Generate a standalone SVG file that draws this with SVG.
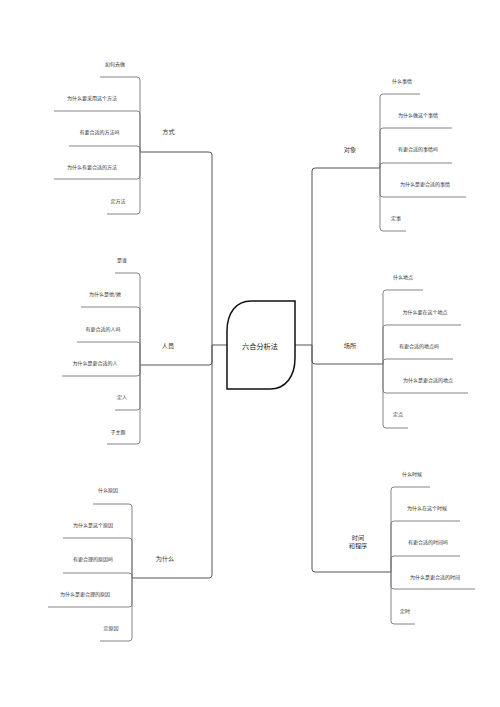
<svg xmlns="http://www.w3.org/2000/svg" width="500" height="707" viewBox="0 0 500 707">
<style>
text{font-family:"Noto Sans CJK SC","Noto Sans",sans-serif;fill:#333;text-anchor:middle;dominant-baseline:central}
.s{font-size:5px}
.b{font-size:6.2px}
.c{font-size:7.2px;fill:#111}
.ln{fill:none;stroke:#777;stroke-width:0.9}
.tk{fill:none;stroke:#555;stroke-width:1}
</style>
<rect width="500" height="707" fill="#fff"/>
<g id="connectors">
<path class="tk" d="M227 345H212M212 345V155Q212 152 209 152H140M212 345V362Q212 365 209 365H140M212 345V575Q212 578 209 578H132"/>
<path class="tk" d="M295 345H312M312 345V171Q312 168 315 168H380M312 345V361Q312 364 315 364H383M312 345V569Q312 572 315 572H391"/>
<path class="ln" d="M100 77H137Q140 77 140 80V152M54 111H137Q140 111 140 114V152M69 146H137Q140 146 140 149V152M54 179H137Q140 179 140 176V152M107 214H137Q140 214 140 211V152"/>
<path class="ln" d="M115 273H137Q140 273 140 276V365M81 307H137Q140 307 140 310V365M77 342H137Q140 342 140 345V365M62 376H137Q140 376 140 373V365M115 410H137Q140 410 140 407V365M107 444H137Q140 444 140 441V365"/>
<path class="ln" d="M93 504H129Q132 504 132 507V578M63 538H129Q132 538 132 541V578M63 573H129Q132 573 132 576V578M48 607H129Q132 607 132 604V578M100 641H129Q132 641 132 638V578"/>
<path class="ln" d="M420 94H383Q380 94 380 97V168M452 128H383Q380 128 380 131V168M452 163H383Q380 163 380 166V168M466 197H383Q380 197 380 194V168M406 231H383Q380 231 380 228V168"/>
<path class="ln" d="M423 290H386Q383 290 383 293V364M461 325H386Q383 325 383 328V364M453 359H386Q383 359 383 362V364M468 393H386Q383 393 383 390V364M408 428H386Q383 428 383 425V364"/>
<path class="ln" d="M430 487H394Q391 487 391 490V572M460 521H394Q391 521 391 524V572M460 556H394Q391 556 391 559V572M475 589H394Q391 589 391 586V572M415 624H394Q391 624 391 621V572"/>
</g>
<g id="center">
<path d="M227 389V331C227 313 236 301 251 301H295V358C295 376 286 389 270 389Z" fill="#fff" stroke="#111" stroke-width="1.5"/>
<text class="c" x="260" y="346">六合分析法</text>
</g>
<g id="fangshi">
<text class="b" x="168.5" y="131">方式</text>
<text class="s" x="115" y="63">如何去做</text>
<text class="s" x="92" y="97">为什么要采用这个方法</text>
<text class="s" x="99.5" y="131">有要合适的方法吗</text>
<text class="s" x="92" y="166">为什么有要合适的方法</text>
<text class="s" x="118" y="200">定方法</text>
</g>
<g id="renyuan">
<text class="b" x="168" y="345">人员</text>
<text class="s" x="122" y="259">是谁</text>
<text class="s" x="105" y="293">为什么是他/她</text>
<text class="s" x="103" y="328">有更合适的人吗</text>
<text class="s" x="95" y="362">为什么是更合适的人</text>
<text class="s" x="122" y="396">定人</text>
<text class="s" x="118" y="431">子主题</text>
</g>
<g id="weishenme">
<text class="b" x="165" y="558">为什么</text>
<text class="s" x="108" y="489">什么原因</text>
<text class="s" x="93" y="524">为什么是这个原因</text>
<text class="s" x="93" y="558">有更合理的原因吗</text>
<text class="s" x="85" y="593">为什么是更合理的原因</text>
<text class="s" x="111" y="627">定原因</text>
</g>
<g id="duixiang">
<text class="b" x="350" y="149">对象</text>
<text class="s" x="402" y="80">什么事情</text>
<text class="s" x="418" y="114">为什么做这个事情</text>
<text class="s" x="418" y="148">有更合适的事情吗</text>
<text class="s" x="425" y="183">为什么是更合适的事情</text>
<text class="s" x="396" y="217">定事</text>
</g>
<g id="changsuo">
<text class="b" x="350" y="345">场所</text>
<text class="s" x="403" y="276">什么地点</text>
<text class="s" x="425" y="311">为什么要在这个地点</text>
<text class="s" x="419" y="345">有更合适的地点吗</text>
<text class="s" x="428" y="379">为什么是更合适的地点</text>
<text class="s" x="398" y="413">定点</text>
</g>
<g id="shijian">
<text class="b" x="358" y="537">时间</text>
<text class="b" x="358" y="545">和程序</text>
<text class="s" x="412" y="473">什么时候</text>
<text class="s" x="427" y="507">为什么在这个时候</text>
<text class="s" x="428" y="541">有更合适的时间吗</text>
<text class="s" x="435" y="576">为什么是更合适的时间</text>
<text class="s" x="405" y="610">定时</text>
</g>
</svg>
